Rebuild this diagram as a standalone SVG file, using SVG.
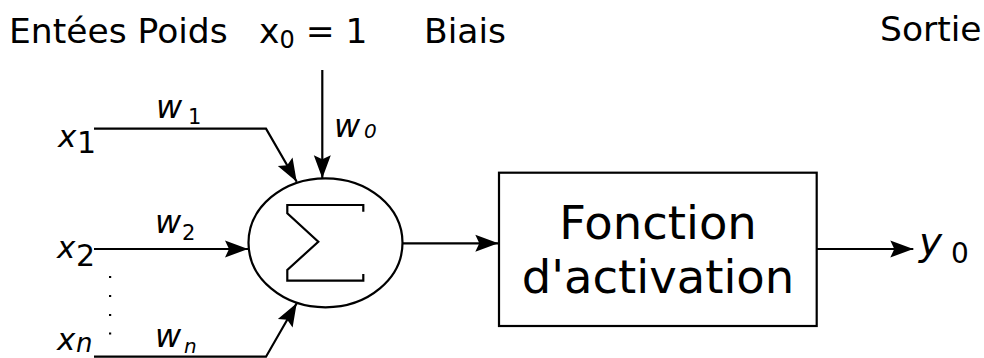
<svg xmlns="http://www.w3.org/2000/svg" width="984" height="358" viewBox="0 0 984 358">
<defs>
<marker id="arr" markerUnits="userSpaceOnUse" markerWidth="28" markerHeight="20" viewBox="-26 -10 28 20" refX="0" refY="0" orient="auto">
<path d="M0,0 L-23,-8.5 L-19,0 L-23,8.5 Z" fill="#000"/>
</marker>
</defs>
<style>
text{font-family:"DejaVu Sans","Liberation Sans",sans-serif;fill:#000}
.t{font-size:34.5px}
.it{font-style:italic}
.ln{fill:none;stroke:#000;stroke-width:2.2}
.a{marker-end:url(#arr)}
</style>
<rect width="984" height="358" fill="#fff"/>
<g id="headers">
<text class="t" x="9" y="43">Entées Poids</text>
<text class="t" x="259" y="43">x<tspan font-size="24" y="48">0</tspan><tspan y="43"> = 1</tspan></text>
<text class="t" x="424" y="43">Biais</text>
<text class="t" x="880" y="41">Sortie</text>
</g>
<g id="connectors">
<path class="ln a" d="M94,128.7 H266 L296.7,181.7"/>
<path class="ln a" d="M322.3,70 V178.3"/>
<path class="ln a" d="M94,249 H248"/>
<path class="ln a" d="M94,356.7 H266 L296.7,303.3"/>
<path class="ln a" d="M402.7,243.3 H498.3"/>
<path class="ln a" d="M816.7,249 H913.3"/>
</g>
<g id="input-x1">
<text class="it" font-size="31" x="58" y="147">x</text>
<text font-size="30" x="77" y="153">1</text>
<text class="it" font-size="32" x="156" y="118">w</text>
<text font-size="21" x="188" y="124">1</text>
</g>
<g id="input-x2">
<text class="it" font-size="31" x="57" y="258">x</text>
<text font-size="30" x="76" y="266">2</text>
<text class="it" font-size="32" x="155" y="233">w</text>
<text font-size="21" x="182" y="240">2</text>
</g>
<g id="dots" fill="#000">
<rect x="109" y="276" width="2.2" height="2"/>
<rect x="109" y="295" width="2.2" height="2"/>
<rect x="109" y="314" width="2.2" height="2"/>
<rect x="109" y="332.5" width="2.2" height="2"/>
</g>
<g id="input-xn">
<text class="it" font-size="31" x="57" y="350">x</text>
<text class="it" font-size="26" x="76" y="351.5">n</text>
<text class="it" font-size="32" x="155" y="347">w</text>
<text class="it" font-size="20" x="184" y="353">n</text>
</g>
<g id="bias">
<text class="it" font-size="32" x="334" y="137">w</text>
<text class="it" font-size="20" x="364" y="138">0</text>
</g>
<g id="sum">
<ellipse class="ln" cx="325.5" cy="242.8" rx="77" ry="64.5"/>
<path class="ln" d="M363.3,211.7 V205 H287.3 V213.3 L318.3,241.7 L287.3,270 V280.7 H363.3 V274"/>
</g>
<g id="activation">
<rect class="ln" x="499" y="172.7" width="317.7" height="153.3"/>
<text font-size="46.5" x="658" y="239" text-anchor="middle">Fonction</text>
<text font-size="46.5" x="658" y="293" text-anchor="middle">d'activation</text>
</g>
<g id="output">
<text class="it" font-size="39" x="919" y="255">y</text>
<text font-size="28" x="951" y="263">0</text>
</g>
</svg>
